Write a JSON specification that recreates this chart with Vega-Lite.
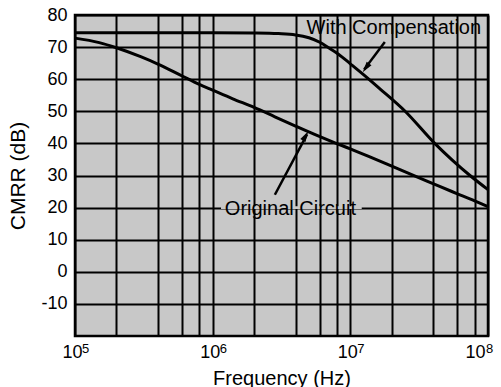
{
  "$schema": "https://vega.github.io/schema/vega-lite/v6.json",
  "width": 413,
  "height": 321,
  "autosize": "none",
  "padding": {"left": 75, "top": 15, "right": 13, "bottom": 51},
  "background": "#ffffff",
  "config": {
    "font": "Liberation Sans",
    "view": {"fill": "#c8c8c8", "stroke": "#000000", "strokeWidth": 2.5}
  },
  "datasets": {
    "curves": [
      {"series": "Original", "f": 100000, "db": 72.8},
      {"series": "Original", "f": 150000, "db": 71.4},
      {"series": "Original", "f": 200000, "db": 69.8},
      {"series": "Original", "f": 300000, "db": 67.0},
      {"series": "Original", "f": 400000, "db": 64.7},
      {"series": "Original", "f": 600000, "db": 61.0},
      {"series": "Original", "f": 800000, "db": 58.4},
      {"series": "Original", "f": 1000000, "db": 56.6},
      {"series": "Original", "f": 1400000, "db": 53.9},
      {"series": "Original", "f": 2000000, "db": 51.2},
      {"series": "Original", "f": 2830000, "db": 48.3},
      {"series": "Original", "f": 4000000, "db": 45.4},
      {"series": "Original", "f": 5500000, "db": 42.8},
      {"series": "Original", "f": 7500000, "db": 40.4},
      {"series": "Original", "f": 10000000, "db": 38.3},
      {"series": "Original", "f": 14000000, "db": 35.7},
      {"series": "Original", "f": 20000000, "db": 32.9},
      {"series": "Original", "f": 32000000, "db": 29.2},
      {"series": "Original", "f": 45000000, "db": 26.5},
      {"series": "Original", "f": 60000000, "db": 24.3},
      {"series": "Original", "f": 80000000, "db": 22.1},
      {"series": "Original", "f": 100000000, "db": 20.3},
      {"series": "Compensated", "f": 100000, "db": 74.5},
      {"series": "Compensated", "f": 1000000, "db": 74.5},
      {"series": "Compensated", "f": 2000000, "db": 74.4},
      {"series": "Compensated", "f": 3000000, "db": 74.2},
      {"series": "Compensated", "f": 4000000, "db": 73.8},
      {"series": "Compensated", "f": 5000000, "db": 72.9},
      {"series": "Compensated", "f": 6000000, "db": 71.5},
      {"series": "Compensated", "f": 7000000, "db": 69.7},
      {"series": "Compensated", "f": 8200000, "db": 67.8},
      {"series": "Compensated", "f": 10000000, "db": 64.8},
      {"series": "Compensated", "f": 12400000, "db": 61.5},
      {"series": "Compensated", "f": 16400000, "db": 57.0},
      {"series": "Compensated", "f": 25000000, "db": 50.0},
      {"series": "Compensated", "f": 41000000, "db": 40.0},
      {"series": "Compensated", "f": 55000000, "db": 34.8},
      {"series": "Compensated", "f": 74000000, "db": 30.0},
      {"series": "Compensated", "f": 100000000, "db": 25.6}
    ],
    "arrows": [
      {"name": "comp", "f": 17800000, "db": 71.6, "f2": 12600000, "db2": 63.0},
      {"name": "orig", "f": 2830000, "db": 24.0, "f2": 4850000, "db2": 42.8}
    ],
    "tips": [
      {"name": "comp", "f": 12300000, "db": 62.2},
      {"name": "orig", "f": 4950000, "db": 43.8}
    ],
    "notes": [
      {"label": "With Compensation", "f": 20700000, "db": 76.0},
      {"label": "Original Circuit", "f": 3670000, "db": 19.6}
    ],
    "mask": [
      {"f": 1150000, "f2": 12100000, "db": 19.6, "db2": 20.4}
    ],
    "exps": [
      {"f": 100000, "db": -20, "e": "5"},
      {"f": 1000000, "db": -20, "e": "6"},
      {"f": 10000000, "db": -20, "e": "7"},
      {"f": 100000000, "db": -20, "e": "8"}
    ]
  },
  "encoding": {
    "x": {
      "field": "f",
      "type": "quantitative",
      "scale": {"type": "log", "domain": [100000, 100000000], "nice": false},
      "axis": {
        "title": "Frequency (Hz)",
        "values": [100000, 200000, 400000, 600000, 800000, 1000000, 2000000, 4000000, 6000000, 8000000, 10000000, 20000000, 40000000, 60000000, 80000000, 100000000],
        "labelExpr": "(datum.value == 100000 || datum.value == 1000000 || datum.value == 10000000 || datum.value == 100000000) ? '10' : ''",
        "labelOverlap": false,
        "labelFlush": false,
        "labelAlign": {"condition": {"test": "datum.value == 100000000", "value": "right"}, "value": "center"},
        "labelOffset": -3,
        "labelFontSize": 18,
        "labelColor": "#000000",
        "labelPadding": 7,
        "ticks": false,
        "domain": false,
        "grid": true,
        "gridColor": "#000000",
        "gridWidth": 2,
        "gridOpacity": 1,
        "titleFontSize": 20,
        "titleFontWeight": "normal",
        "titleColor": "#000000",
        "titlePadding": 7
      }
    },
    "y": {
      "field": "db",
      "type": "quantitative",
      "scale": {"domain": [-20, 80], "nice": false, "zero": false},
      "axis": {
        "title": "CMRR (dB)",
        "values": [-10, 0, 10, 20, 30, 40, 50, 60, 70, 80],
        "labelExpr": "'' + datum.value",
        "labelFontSize": 18,
        "labelColor": "#000000",
        "labelPadding": 8,
        "ticks": false,
        "domain": false,
        "grid": true,
        "gridColor": "#000000",
        "gridWidth": 2,
        "gridOpacity": 1,
        "titleFontSize": 21,
        "titleFontWeight": "normal",
        "titleColor": "#000000",
        "titlePadding": 12
      }
    }
  },
  "layer": [
    {
      "data": {"name": "mask"},
      "mark": {"type": "rect", "fill": "#c8c8c8", "strokeWidth": 0},
      "encoding": {
        "x2": {"field": "f2"},
        "y2": {"field": "db2"}
      }
    },
    {
      "data": {"name": "curves"},
      "mark": {"type": "line", "color": "#000000", "strokeWidth": 3, "interpolate": "monotone"},
      "encoding": {
        "detail": {"field": "series", "type": "nominal"}
      }
    },
    {
      "data": {"name": "arrows"},
      "mark": {"type": "rule", "color": "#000000", "strokeWidth": 2.5},
      "encoding": {
        "x2": {"field": "f2"},
        "y2": {"field": "db2"}
      }
    },
    {
      "data": {"name": "tips"},
      "transform": [{"filter": "datum.name == 'comp'"}],
      "mark": {"type": "point", "shape": "M0,0L1,3.6L-1,3.6Z", "size": 36, "filled": true, "color": "#000000", "opacity": 1, "angle": 216},
      "encoding": {}
    },
    {
      "data": {"name": "tips"},
      "transform": [{"filter": "datum.name == 'orig'"}],
      "mark": {"type": "point", "shape": "M0,0L1,3.6L-1,3.6Z", "size": 36, "filled": true, "color": "#000000", "opacity": 1, "angle": 30},
      "encoding": {}
    },
    {
      "data": {"name": "notes"},
      "mark": {"type": "text", "fontSize": 20, "color": "#000000", "align": "center", "baseline": "middle"},
      "encoding": {
        "text": {"field": "label", "type": "nominal"}
      }
    },
    {
      "data": {"name": "exps"},
      "transform": [{"filter": "datum.f < 50000000"}],
      "mark": {"type": "text", "fontSize": 13, "color": "#000000", "align": "left", "baseline": "top", "dx": 7, "dy": 7},
      "encoding": {
        "text": {"field": "e", "type": "nominal"}
      }
    },
    {
      "data": {"name": "exps"},
      "transform": [{"filter": "datum.f > 50000000"}],
      "mark": {"type": "text", "fontSize": 13, "color": "#000000", "align": "left", "baseline": "top", "dx": -2, "dy": 7},
      "encoding": {
        "text": {"field": "e", "type": "nominal"}
      }
    }
  ]
}
